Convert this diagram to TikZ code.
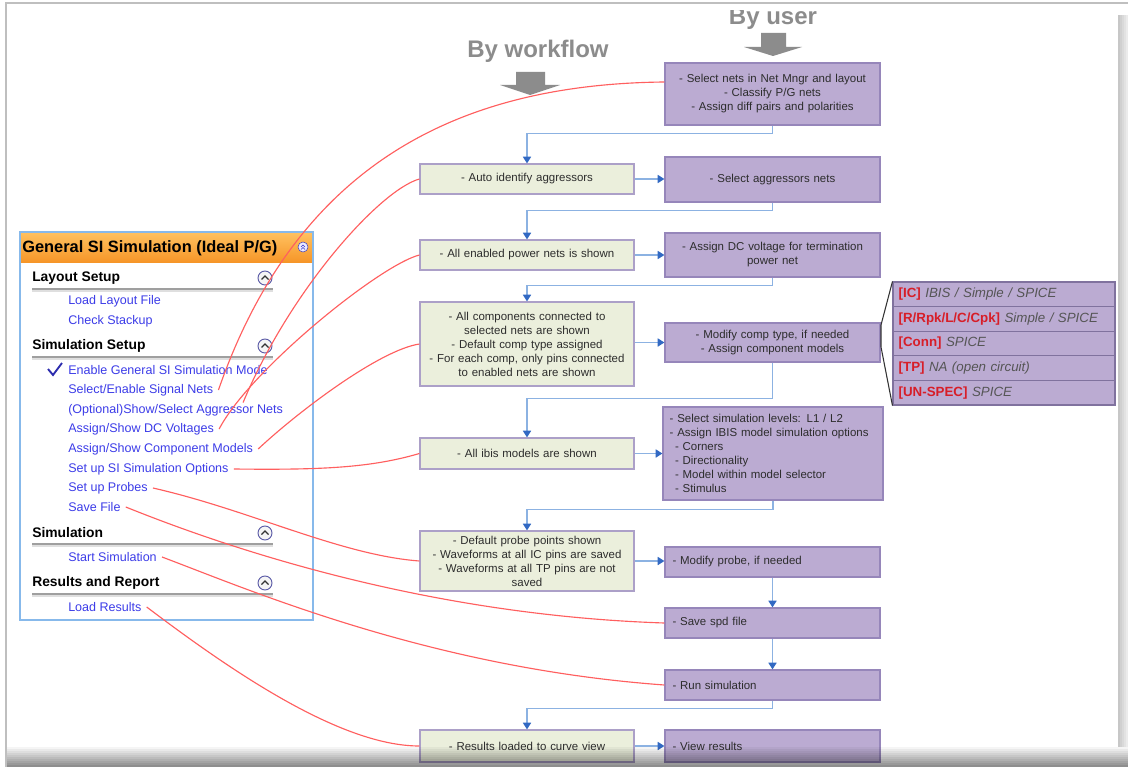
\documentclass[tikz,border=0pt]{standalone}
\usepackage{fontspec}
\setmainfont{Liberation Sans}
\usetikzlibrary{arrows.meta,calc}
\definecolor{gfill}{RGB}{235,239,220}
\definecolor{gdraw}{RGB}{172,160,200}
\definecolor{pfill}{RGB}{187,171,210}
\definecolor{pdraw}{RGB}{150,134,186}
\definecolor{flowl}{RGB}{140,178,226}
\definecolor{flowh}{RGB}{50,105,195}
\definecolor{redc}{RGB}{255,95,95}
\definecolor{linkc}{RGB}{60,60,232}
\definecolor{panelb}{RGB}{135,185,235}
\definecolor{orangeT}{RGB}{255,192,95}
\definecolor{orangeB}{RGB}{246,150,40}
\definecolor{arrg}{RGB}{140,140,140}
\definecolor{listred}{RGB}{215,30,40}
\definecolor{listgray}{RGB}{85,85,85}
\definecolor{txt}{RGB}{45,45,45}
\tikzset{
  boxfont/.style={font=\fontsize{8.6}{10.5}\selectfont, text=txt},
  gbox/.style={draw=gdraw, fill=gfill, line width=0.9pt, minimum width=160.5pt, text width=157pt, align=center, inner sep=0pt, boxfont},
  pbox/.style={draw=pdraw, fill=pfill, line width=0.9pt, minimum width=161.25pt, text width=157pt, align=center, inner sep=0pt, boxfont},
  pboxl/.style={pbox, text width=150pt, align=left},
  flow/.style={draw=flowl, line width=1.2pt, -{Triangle[width=6pt,length=5pt,color=flowh]}},
  redline/.style={draw=redc, line width=0.85pt},
  item/.style={anchor=west, inner xsep=3.75pt, inner ysep=1pt, text=linkc, font=\fontsize{9.4}{11}\selectfont},
  sec/.style={anchor=west, inner sep=0pt, font=\bfseries\fontsize{10.4}{12}\selectfont, text=black},
  lrow/.style={draw=pdraw!85!black, fill=pfill, line width=0.8pt, minimum width=166.5pt, minimum height=18.45pt, text width=158pt, align=left, inner sep=0pt, font=\fontsize{10}{12}\selectfont},
  bigtxt/.style={font=\bfseries\fontsize{18}{20}\selectfont, text=arrg, inner sep=0pt, anchor=base},
  secicon/.style={circle, draw=gray!70!blue, fill=gray!8, line width=0.7pt, minimum size=10.5pt, inner sep=0pt},
  bracketline/.style={draw=gray!40!black, line width=0.8pt}
}
\begin{document}
\begin{tikzpicture}[x=0.75pt,y=-0.75pt]
\useasboundingbox (0,0) rectangle (1128,767);
\fill[white] (0,0) rectangle (1128,767);

% ---------- gray "By ..." arrows ----------
\begin{scope}
\clip (0,11) rectangle (1128,60);
\node[bigtxt] (byuser) at (773,25) {By user};
\end{scope}
\node[bigtxt] (bywork) at (538,58) {By workflow};
\fill[arrg] (516,72) -- (545,72) -- (545,85) -- (560,85) -- (530,95) -- (500,85) -- (516,85) -- cycle;
\fill[arrg] (761,33) -- (786,33) -- (786,47) -- (802,47) -- (773,56) -- (744,47) -- (761,47) -- cycle;

% ---------- left panel ----------
\draw[panelb, line width=1.5pt, fill=white] (20,232) rectangle (313,620);
\shade[top color=orangeT, bottom color=orangeB] (21.2,233.2) rectangle (311.8,262);
\node[anchor=west, inner sep=0pt, font=\bfseries\fontsize{12.3}{14}\selectfont] (hdr) at (22,248) {General SI Simulation (Ideal P/G)};
\node[circle, draw=gray!50!blue, fill=blue!8, minimum size=7.5pt, inner sep=0pt] (hicon) at (303,247) {};
\draw[gray!40!blue, line width=0.5pt] (301,247) -- (303,245) -- (305,247);
\draw[gray!40!blue, line width=0.5pt] (301,249.5) -- (303,247.5) -- (305,249.5);

\node[sec] (s1) at (32,278) {Layout Setup};
\node[sec] (s2) at (32,346) {Simulation Setup};
\node[sec] (s3) at (32,533) {Simulation};
\node[sec] (s4) at (32,583) {Results and Report};
\foreach \yy in {289,357,544,594} {
  \draw[gray!75, line width=1.6pt] (32,\yy) -- (273,\yy);
  \draw[gray!25, line width=0.8pt] (32,{\yy+2}) -- (273,{\yy+2});
}
\foreach \yy/\nm in {278/c1,346/c2,533/c3,583/c4} {
  \node[secicon] (\nm) at (265,\yy) {};
  \draw[black!80, line width=1pt] (261.5,{\yy+1.5}) -- (265,{\yy-2}) -- (268.5,{\yy+1.5});
}
\node[item] (i1) at (63,301) {Load Layout File};
\node[item] (i2) at (63,321) {Check Stackup};
\node[item] (i3) at (63,370) {Enable General SI Simulation Mode};
\node[item] (i4) at (63,390) {Select/Enable Signal Nets};
\node[item] (i5) at (63,410) {(Optional)Show/Select Aggressor Nets};
\node[item] (i6) at (63,429) {Assign/Show DC Voltages};
\node[item] (i7) at (63,449) {Assign/Show Component Models};
\node[item] (i8) at (63,469) {Set up SI Simulation Options};
\node[item] (i9) at (63,488) {Set up Probes};
\node[item] (i10) at (63,507) {Save File};
\node[item] (i11) at (63,557) {Start Simulation};
\node[item] (i12) at (63,607) {Load Results};
\draw[linkc!75!black, line width=1.4pt] (48,369) -- (53,375) -- (62,363);

% ---------- flow boxes ----------
\node[pbox, minimum height=46.5pt] (P1) at (772.5,94) {- Select nets in Net Mngr and layout\\- Classify P/G nets\\- Assign diff pairs and polarities};
\node[gbox, minimum height=22.5pt] (G1) at (527,179) {- Auto identify aggressors};
\node[pbox, minimum height=33.75pt] (P2) at (772.5,179.5) {- Select aggressors nets};
\node[gbox, minimum height=22.5pt] (G2) at (527,255) {- All enabled power nets is shown};
\node[pbox, minimum height=33pt] (P3) at (772.5,255) {- Assign DC voltage for termination\\power net};
\node[gbox, minimum height=63pt] (G3) at (527,344) {- All components connected to\\selected nets are shown\\- Default comp type assigned\\- For each comp, only pins connected\\to enabled nets are shown};
\node[pbox, minimum height=29.25pt] (P4) at (772.5,342.5) {- Modify comp type, if needed\\- Assign component models};
\node[gbox, minimum height=23.25pt] (G4) at (527,453.5) {- All ibis models are shown};
\node[pboxl, minimum width=165pt, text width=155pt, minimum height=69.75pt] (P5) at (773,453.5) {- Select simulation levels: L1 / L2\\- Assign IBIS model simulation options\\\hspace*{4pt}- Corners\\\hspace*{4pt}- Directionality\\\hspace*{4pt}- Model within model selector\\\hspace*{4pt}- Stimulus};
\node[gbox, minimum height=45pt] (G5) at (527,561) {- Default probe points shown\\- Waveforms at all IC pins are saved\\- Waveforms at all TP pins are not\\saved};
\node[pboxl, minimum height=22.5pt] (P6) at (772.5,562) {- Modify probe, if needed};
\node[pboxl, minimum height=22.5pt] (P7) at (772.5,623) {- Save spd file};
\node[pboxl, minimum height=22.5pt] (P8) at (772.5,685) {- Run simulation};
\node[gbox, minimum height=24pt] (G6) at (527,746) {- Results loaded to curve view};
\node[pboxl, minimum height=24pt] (P9) at (772.5,746) {- View results};

% ---------- component list ----------
\node[lrow] (L1) at (1004,294.3) {\textcolor{listred}{\textbf{[IC]}} \textcolor{listgray}{\textit{IBIS / Simple / SPICE}}};
\node[lrow] (L2) at (1004,318.9) {\textcolor{listred}{\textbf{[R/Rpk/L/C/Cpk]}} \textcolor{listgray}{\textit{Simple / SPICE}}};
\node[lrow] (L3) at (1004,343.5) {\textcolor{listred}{\textbf{[Conn]}} \textcolor{listgray}{\textit{SPICE}}};
\node[lrow] (L4) at (1004,368.1) {\textcolor{listred}{\textbf{[TP]}} \textcolor{listgray}{\textit{NA (open circuit)}}};
\node[lrow] (L5) at (1004,392.7) {\textcolor{listred}{\textbf{[UN-SPEC]}} \textcolor{listgray}{\textit{SPICE}}};
\coordinate (b1) at (881,325);
\coordinate (b2) at (881,347);
\draw[bracketline] (L1.north west) -- (b1) -- (b2) -- (L5.south west);

% ---------- blue flow connectors ----------
\draw[flow] (P1.south) -- ++(0,8) -| (G1.north);
\draw[flow] (G1.east) -- (G1.east -| P2.west);
\draw[flow] (P2.south) -- ++(0,8) -| (G2.north);
\draw[flow] (G2.east) -- (G2.east -| P3.west);
\draw[flow] (P3.south) -- ++(0,8) -| (G3.north);
\draw[flow] (G3.east |- P4.west) -- (P4.west);
\draw[flow] (P4.south) -- ++(0,36) -| (G4.north);
\draw[flow] (G4.east) -- (G4.east -| P5.west);
\draw[flow] (P5.south) -- ++(0,9) -| (G5.north);
\draw[flow] (G5.east) -- (G5.east -| P6.west);
\draw[flow] (P6.south) -- (P7.north);
\draw[flow] (P7.south) -- (P8.north);
\draw[flow] (P8.south) -- ++(0,8) -| (G6.north);
\draw[flow] (G6.east) -- (G6.east -| P9.west);

% ---------- red mapping curves ----------
\draw[redline] ($(P1.west)+(0,-12)$) .. controls (470,84) and (300,155) .. (i4.east);
\draw[redline] (G1.west) .. controls (380,190) and (290,290) .. ($(i5.north west)!0.8!(i5.north east)$);
\draw[redline] (G2.west) .. controls (380,265) and (250,370) .. (i6.east);
\draw[redline] (G3.west) .. controls (380,350) and (300,410) .. (i7.east);
\draw[redline] (G4.west) .. controls (370,468) and (320,470) .. (i8.east);
\draw[redline] (i9.east) .. controls (250,510) and (340,555) .. (G5.west);
\draw[redline] (i10.east) .. controls (220,545) and (420,615) .. (P7.west);
\draw[redline] (i11.east) .. controls (250,590) and (430,668) .. (P8.west);
\draw[redline] (i12.east) .. controls (230,670) and (340,746) .. (G6.west);

% ---------- page frame and shadows ----------
\draw[gray!50, line width=1.5pt] (6,767) -- (6,3) -- (1128,3);
\foreach \i in {0,...,4} {
  \fill[black, opacity={0.22-0.035*\i}] ({1118+2*\i},15) rectangle ({1120+2*\i},747);
}
\foreach \i in {0,...,9} {
  \fill[black, opacity={0.04+0.045*\i}] (7,{747+2*\i}) rectangle (1128,{749+2*\i});
}
\end{tikzpicture}
\end{document}
